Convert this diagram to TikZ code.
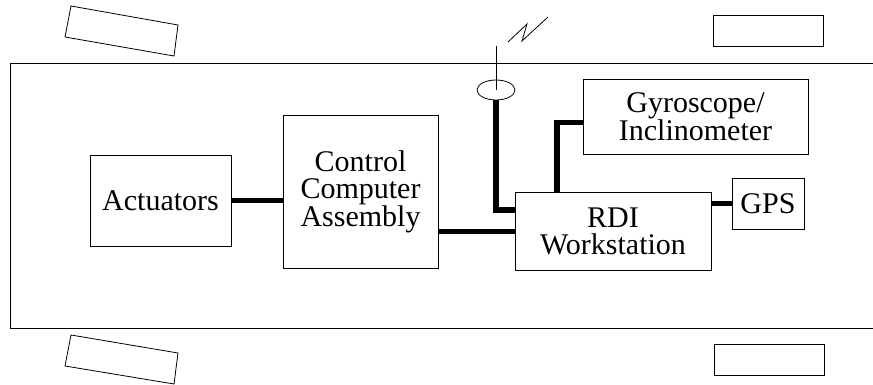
\documentclass[tikz,border=0pt]{standalone}
\usepackage{fontspec}
\setmainfont{Liberation Serif}
\usetikzlibrary{positioning,shapes.geometric,calc}

\begin{document}
\begin{tikzpicture}[x=1pt,y=-1pt,
                    box/.style={draw,line width=0.8pt,inner sep=0pt,align=center,
                                font=\fontsize{30}{27.5}\selectfont},
                    bus/.style={line width=5.5pt},
                    thin line/.style={line width=0.8pt}
                   ]
  \useasboundingbox (0,0) rectangle (873,385);
  % vehicle body and wheels
  \draw[thin line] (873,63) -- (10,63) -- (10,328) -- (873,328);
  \draw[thin line] (71,6) -- (178,25) -- (174,56) -- (65,37) -- cycle;
  \draw[thin line] (71,335) -- (178,353) -- (174,384) -- (65,366) -- cycle;
  \draw[thin line] (713,15) rectangle (823,46);
  \draw[thin line] (714,344) rectangle (824,375);
  % units
  \node[box,minimum width=141,minimum height=91] (actuators) at (160.5,200.5) {Actuators};
  \node[box,minimum width=155,minimum height=153] (control) at (360.5,191.5) {Control\\Computer\\Assembly};
  \node[box,minimum width=196,minimum height=78] (rdi) at (613,231.5) {RDI\\Workstation};
  \node[box,minimum width=72,minimum height=51] (gps) at (768,203.5) {GPS};
  \node[box,minimum width=225,minimum height=75] (gyro) at (695.5,116.5) {Gyroscope/\\Inclinometer};
  \node[draw,thin line,ellipse,minimum width=38,minimum height=20,inner sep=0pt] (antenna) at (496,90) {};
  % antenna mast and signal
  \coordinate (mast) at (496,46);
  \draw[thin line] (mast) -- (antenna.center);
  \draw[thin line] (508,42) -- (527,24) -- (522,41) -- (548,17);
  % links
  \draw[bus] (actuators.east) -- (actuators.east -| control.west);
  \draw[bus] (rdi.west) -- (rdi.west -| control.east);
  \draw[bus] (gps.west) -- (gps.west -| rdi.east);
  \draw[bus] (antenna.south) |- ([yshift=21.5pt]rdi.west);
  \draw[bus] ([xshift=-56pt]rdi.north) |- ([yshift=-6pt]gyro.west);
\end{tikzpicture}
\end{document}
